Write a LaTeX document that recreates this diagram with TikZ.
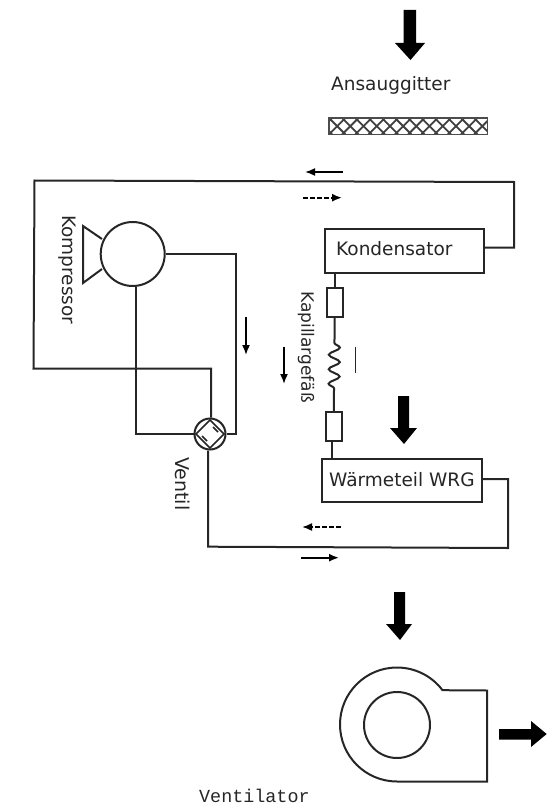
\documentclass[tikz,border=0pt]{standalone}
\usepackage{fontspec}
\setmainfont{DejaVu Sans}
\newfontfamily\monofam{Liberation Mono}
\usetikzlibrary{arrows.meta,decorations.pathmorphing,calc}
\tikzset{
  pipe/.style={draw=black!85,line width=2pt},
  box/.style={draw=black!85,line width=2pt,rectangle,inner sep=0pt,fill=white},
  round/.style={draw=black!85,line width=2pt,circle,inner sep=0pt,fill=white},
  lab/.style={font=\fontsize{18.5}{20}\selectfont,text=black!85,inner sep=0pt},
  flow/.style={draw=black,line width=1.7pt,-{Latex[length=10pt,width=8pt]}},
  flowd/.style={flow,dash pattern=on 4.5pt off 2.5pt},
  bigarrow/.style={fill=black,draw=none}
}
\begin{document}
\begin{tikzpicture}[x=1pt,y=-1pt]
\useasboundingbox (0,0) rectangle (555,805);
\node[box,minimum width=159pt,minimum height=44pt] (kond) at (404.5,251) {};
\node[lab,anchor=west] (kondt) at (336,249) {Kondensator};
\node[box,minimum width=160pt,minimum height=43pt] (wrg) at (401.7,480.5) {};
\node[lab,anchor=west] (wrgt) at (329,480) {Wärmeteil WRG};
\node[box,minimum width=16pt,minimum height=29pt] (r1) at (334.7,302.5) {};
\node[box,minimum width=16pt,minimum height=29pt] (r2) at (333.8,426.5) {};
\node[round,minimum size=64pt] (comp) at (132.7,254) {};
\node[round,minimum size=31pt] (valve) at (210,434) {};
% pipes
\draw[pipe] (kond.east|-0,247.5) -- (514,247.5) -- (514,182) -- (34.5,180.5) -- (33.5,368.5) -- (211,368.5) -- (valve.north-|211,0);
\draw[pipe] (comp.east) -- (236,254) -- (236,434) -- (valve.east);
\draw[pipe] (comp.south-|135.5,0) -- (135.5,434) -- (valve.west);
\draw[pipe] (valve.south-|208,0) -- (208,546.7) -- (508,548) -- (508,479) -- (wrg.east|-0,479);
\draw[pipe] (kond.south-|r1.north) -- (r1.north);
\draw[pipe] (r2.south-|331.7,0) -- (wrg.north-|331.7,0);
\draw[pipe,decorate,decoration={snake,segment length=14.5pt,amplitude=5.5pt,pre length=25pt,post length=19pt}] (r1.south) -- (r2.north);
\draw[pipe,line width=1.5pt] (355.7,346.7) -- (355.7,372.7);
% valve inside
\draw[line width=1.7pt,black!85] (210,420) -- (224,434) -- (210,448) -- (196,434) -- cycle;
\draw[line width=1.5pt,black!85] (213,427) -- (218,432);
\draw[line width=1.5pt,black!85] (202,436) -- (207,441);
% compressor base
\draw[pipe,line join=miter] (102,239) -- (83,226) -- (83,283) -- (102,269);
% labels rotated
\node[lab,rotate=-90,anchor=west] (kompt) at (67,215) {Kompressor};
\node[lab,rotate=-90,anchor=west,font=\fontsize{19}{20}\selectfont] (ventt) at (183,457) {Ventil};
\node[lab,rotate=-90,anchor=west,font=\fontsize{17}{20}\selectfont] (kapt) at (306,291) {Kapillargefäß};
\node[lab,anchor=west] (anst) at (331,85) {Ansauggitter};
\node[anchor=base west,inner sep=0pt,font=\monofam\fontsize{18.4}{20}\selectfont,text=black!85] (ventl) at (199,802) {Ventilator};
% small arrows
\coordinate (a1s) at (342.7,172); \coordinate (a1e) at (305,172);
\coordinate (a2s) at (303,197.7); \coordinate (a2e) at (342,197.7);
\coordinate (a3s) at (340.7,527); \coordinate (a3e) at (302,527);
\coordinate (a4s) at (301,557.7); \coordinate (a4e) at (339,557.7);
\coordinate (a5s) at (246,316.7); \coordinate (a5e) at (246,355);
\coordinate (a6s) at (284,346.7); \coordinate (a6e) at (284,384);
\draw[flow] (a1s) -- (a1e);
\draw[flowd] (a2s) -- (a2e);
\draw[flowd] (a3s) -- (a3e);
\draw[flow] (a4s) -- (a4e);
\draw[flow] (a5s) -- (a5e);
\draw[flow] (a6s) -- (a6e);
% big arrows
\fill[bigarrow] (403.5,10)--(416,10)--(416,43)--(425,43)--(410.5,60)--(395,43)--(403.5,43)--cycle;
\fill[bigarrow] (398,396)--(409,396)--(409,428)--(417,428)--(404,444)--(390,428)--(398,428)--cycle;
\fill[bigarrow] (394,592)--(405,592)--(405,624)--(412,624)--(400,640)--(386,624)--(394,624)--cycle;
\fill[bigarrow] (499,729)--(531,729)--(531,721)--(546.7,734)--(531,747)--(531,739.5)--(499,739.5)--cycle;
% grille
\begin{scope}
\clip (329,118) rectangle (487.7,134.3);
\foreach \i in {-2,...,13}{
  \draw[line width=1.8pt,black!75] ({329+\i*13.2},118) -- ({329+\i*13.2+16.3},134.3);
  \draw[line width=1.8pt,black!75] ({329+\i*13.2+16.3},118) -- ({329+\i*13.2},134.3);
}
\end{scope}
\draw[line width=1.3pt,black!70] (329,118) rectangle (487.7,134.3);
% fan
\node[round,minimum size=66pt,fill=none] (imp) at (397,725) {};
\draw[pipe,line join=miter] (397,781.5) arc[start angle=-270,end angle=-37,radius=57] -- (487,690.5) -- (487,781.5) -- cycle;
\end{tikzpicture}
\end{document}
